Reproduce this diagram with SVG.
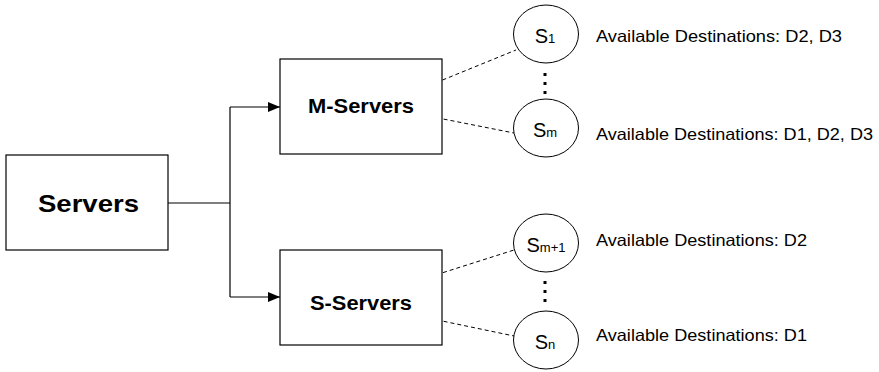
<svg xmlns="http://www.w3.org/2000/svg" width="879" height="372" viewBox="0 0 879 372">
<defs>
<style>
.box{fill:#fff;stroke:#000;stroke-width:1.2}
.circ{fill:#fff;stroke:#000;stroke-width:1}
.conn{fill:none;stroke:#000;stroke-width:1.2}
.dash{fill:none;stroke:#000;stroke-width:1;stroke-dasharray:4 3}
.dots{fill:none;stroke:#000;stroke-width:3;stroke-dasharray:3 6}
.big{font-family:"Liberation Sans",Arial,sans-serif;font-weight:bold;fill:#000}
.lbl{font-family:"Liberation Sans",Arial,sans-serif;font-size:16.5px;fill:#000}
.s{font-family:"Liberation Sans",Arial,sans-serif;fill:#000;text-anchor:middle}
</style>
<marker id="arr" viewBox="0 0 12 10" refX="12" refY="5" markerWidth="12" markerHeight="10" markerUnits="userSpaceOnUse" orient="auto">
<path d="M0,0 L12,5 L0,10 Z" fill="#000"/>
</marker>
</defs>
<rect width="879" height="372" fill="#fff"/>
<g id="connectors">
<path class="conn" d="M168,203 H230"/>
<path class="conn" d="M230,107 V297"/>
<path class="conn" d="M230,107 H280" marker-end="url(#arr)"/>
<path class="conn" d="M230,297 H280" marker-end="url(#arr)"/>
<path class="dash" d="M423,88 L516,50"/>
<path class="dash" d="M423,115 L514,133"/>
<path class="dash" d="M423,279 L514,250"/>
<path class="dash" d="M423,317 L514,336"/>
<path class="dots" d="M545,73 V98"/>
<path class="dots" d="M545,281 V306"/>
</g>
<g id="servers">
<rect class="box" x="6" y="155" width="162" height="95"/>
<text class="big" x="38" y="212" font-size="24" textLength="101" lengthAdjust="spacingAndGlyphs">Servers</text>
</g>
<g id="m-servers">
<rect class="box" x="280" y="59" width="162" height="95"/>
<text class="big" x="308" y="113" font-size="19.5" textLength="106" lengthAdjust="spacingAndGlyphs">M-Servers</text>
</g>
<g id="s-servers">
<rect class="box" x="280" y="250" width="162" height="95"/>
<text class="big" x="310" y="310" font-size="19.5" textLength="102" lengthAdjust="spacingAndGlyphs">S-Servers</text>
</g>
<g id="s1">
<ellipse class="circ" cx="546" cy="34" rx="32.5" ry="29"/>
<text class="s" x="545" y="43" font-size="20"><tspan>S</tspan><tspan font-size="13">1</tspan></text>
<text class="lbl" x="596" y="42" textLength="246" lengthAdjust="spacingAndGlyphs">Available Destinations: D2, D3</text>
</g>
<g id="sm">
<ellipse class="circ" cx="546" cy="128" rx="32.5" ry="29"/>
<text class="s" x="545" y="137" font-size="20"><tspan>S</tspan><tspan font-size="13">m</tspan></text>
<text class="lbl" x="596" y="140" textLength="277" lengthAdjust="spacingAndGlyphs">Available Destinations: D1, D2, D3</text>
</g>
<g id="sm1">
<ellipse class="circ" cx="546" cy="243" rx="32.5" ry="29"/>
<text class="s" x="546" y="252" font-size="20"><tspan>S</tspan><tspan font-size="13">m+1</tspan></text>
<text class="lbl" x="596" y="246" textLength="211" lengthAdjust="spacingAndGlyphs">Available Destinations: D2</text>
</g>
<g id="sn">
<ellipse class="circ" cx="546" cy="340" rx="32.5" ry="29"/>
<text class="s" x="545" y="349" font-size="20"><tspan>S</tspan><tspan font-size="13">n</tspan></text>
<text class="lbl" x="596" y="341" textLength="211" lengthAdjust="spacingAndGlyphs">Available Destinations: D1</text>
</g>
</svg>
